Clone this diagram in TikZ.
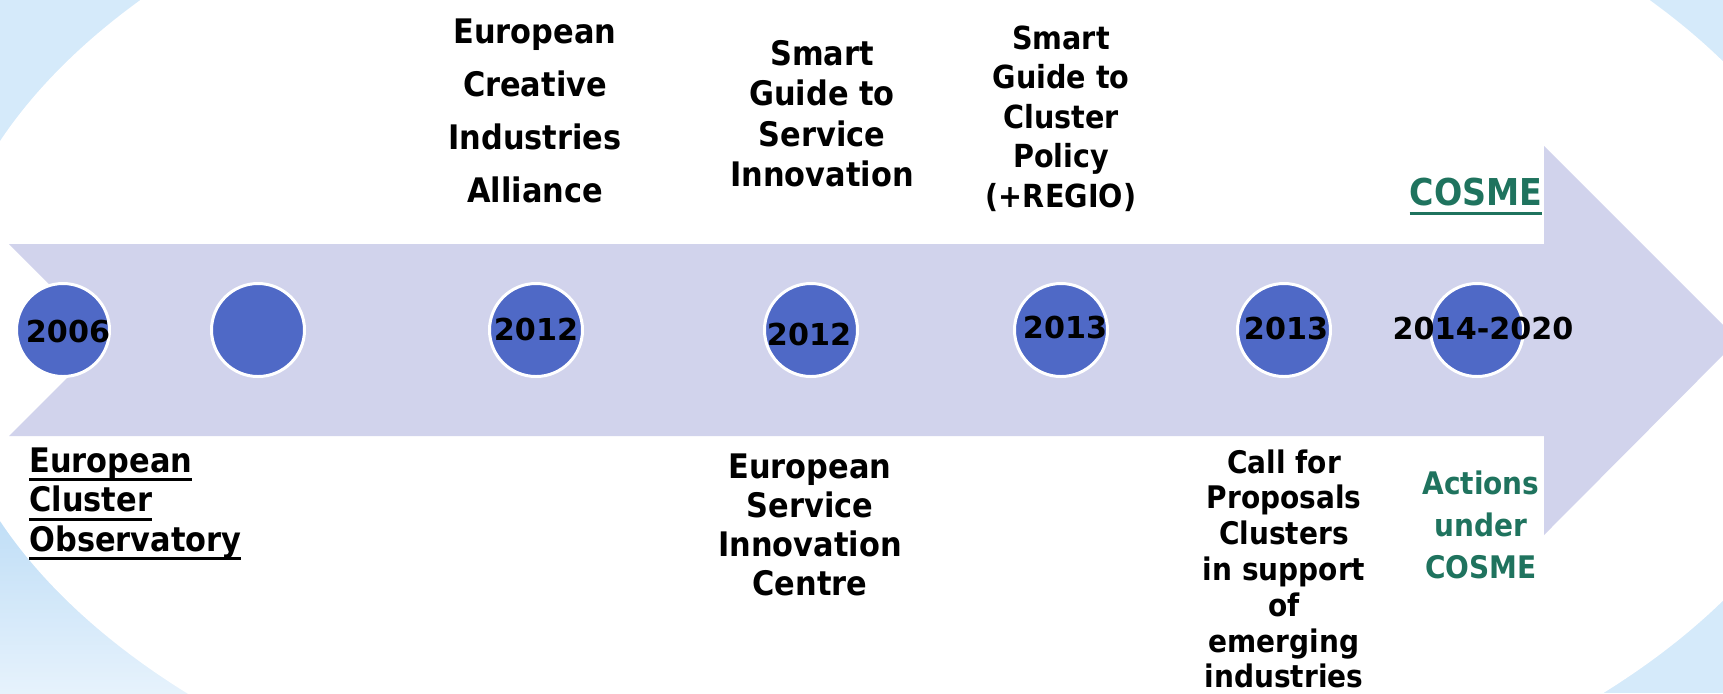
\documentclass[tikz,border=0pt]{standalone}
\usepackage{fontspec}
\newfontfamily\descfont{DejaVu Sans Bold}[FakeStretch=0.9]
\newfontfamily\yearfont{DejaVu Sans Bold}
\definecolor{bgblue}{HTML}{D5EAFA}
\definecolor{banddark}{HTML}{BCDCF6}
\definecolor{bandlight}{HTML}{E6F2FC}
\definecolor{arrowfill}{HTML}{D1D3EC}
\definecolor{dotblue}{HTML}{4F69C6}
\definecolor{cosmegreen}{HTML}{1F735E}
\newcommand\myul[1]{\setbox0\hbox{#1}\rlap{\rule[-0.26em]{\wd0}{0.085em}}\box0}
\begin{document}
\begin{tikzpicture}[x=0.5pt,y=-0.5pt,
  desc/.style={inner sep=0pt, align=center, anchor=north, text=black},
  yr/.style={inner sep=0pt, anchor=base, text=black, font=\yearfont\fontsize{15.1pt}{18pt}\selectfont},
  dot/.style={circle, fill=dotblue, draw=white, line width=1.5pt, minimum size=46.5pt, inner sep=0pt}]
\useasboundingbox (0,0) rectangle (1723,693);
\clip (0,0) rectangle (1723,693);
% background
\fill[bgblue] (0,0) rectangle (1723,693);
\shade[top color=banddark, bottom color=bandlight] (0,500) rectangle (320,693);
\fill[white] (895,331) ellipse [x radius=478pt, y radius=269.5pt];
% arrow
\fill[arrowfill] (9,244) -- (1544,244) -- (1544,146) -- (1738,340) -- (1544,535) -- (1544,436) -- (9,436) -- (105,340) -- cycle;
% circles
\node[dot] (c1) at (63,330) {};
\node[dot] (c2) at (258,330) {};
\node[dot] (c3) at (536,330) {};
\node[dot] (c4) at (811,330) {};
\node[dot] (c5) at (1061,330) {};
\node[dot] (c6) at (1284,330) {};
\node[dot] (c7) at (1477,330) {};
% years
\node[yr] (y1) at (68,342) {2006};
\node[yr] (y3) at (536,340) {2012};
\node[yr] (y4) at (809,345) {2012};
\node[yr] (y5) at (1065,338) {2013};
\node[yr] (y6) at (1286,339) {2013};
\node[yr] (y7) at (1483,339) {2014-2020};
% upper texts
\node[desc, font=\descfont\fontsize{16.9pt}{26.5pt}\selectfont] (ecia) at (535,18.4)
  {European\\Creative\\Industries\\Alliance};
\node[desc, font=\descfont\fontsize{16.9pt}{20.25pt}\selectfont] (sgsi) at (822,40)
  {Smart\\Guide to\\Service\\Innovation};
\node[desc, font=\descfont\fontsize{15.9pt}{19.75pt}\selectfont] (sgcp) at (1061,25.4)
  {Smart\\Guide to\\Cluster\\Policy\\(+REGIO)};
\node[desc, text=cosmegreen, font=\descfont\fontsize{18.5pt}{20pt}\selectfont] (cosme) at (1476,177.5)
  {\myul{COSME}};
% lower texts
\node[desc, anchor=north west, align=left, font=\descfont\fontsize{16.9pt}{19.7pt}\selectfont] (eco) at (29,447.5)
  {\myul{European}\\\myul{Cluster}\\\myul{Observatory}};
\node[desc, font=\descfont\fontsize{16.9pt}{19.5pt}\selectfont] (esic) at (810,453.4)
  {European\\Service\\Innovation\\Centre};
\node[desc, font=\descfont\fontsize{15.55pt}{17.9pt}\selectfont] (call) at (1284,449)
  {Call for\\Proposals\\Clusters\\in support\\of\\emerging\\industries};
\node[desc, text=cosmegreen, font=\descfont\fontsize{15.55pt}{21pt}\selectfont] (act) at (1481,470.4)
  {Actions\\under\\COSME};
\end{tikzpicture}
\end{document}
